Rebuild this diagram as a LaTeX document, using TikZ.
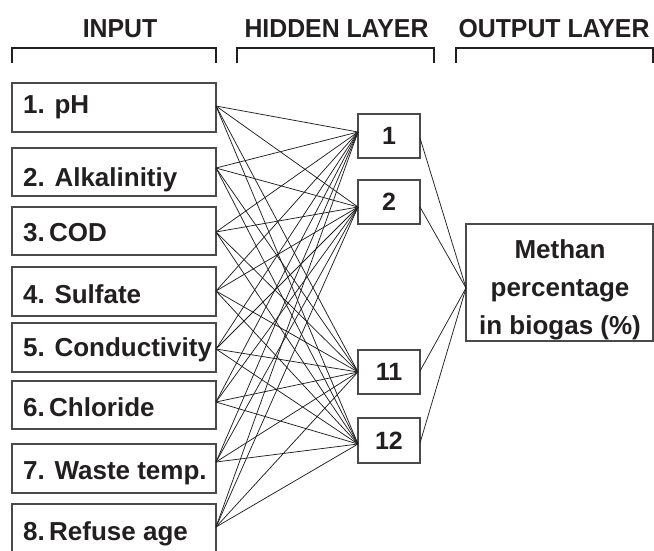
\documentclass[tikz,border=0pt]{standalone}
\usepackage{fontspec}
\setmainfont{Liberation Sans}
\definecolor{ink}{HTML}{231F20}
\definecolor{edge}{HTML}{4A4A4A}
\begin{document}
\begin{tikzpicture}[x=1pt,y=-1pt,
  box/.style={draw=edge,line width=1.3pt,inner sep=0pt,minimum width=204pt},
  hbox/.style={draw=edge,line width=1.3pt,inner sep=0pt,minimum width=62pt,minimum height=44pt,
    font=\fontsize{25}{30}\selectfont\bfseries,text=ink},
  lbl/.style={anchor=base west,inner sep=0pt,font=\fontsize{26}{31}\selectfont\bfseries,text=ink},
  hdr/.style={anchor=base,inner sep=0pt,font=\fontsize{26}{31}\selectfont\bfseries,text=ink},
  link/.style={draw=ink,line width=0.75pt},
  brk/.style={draw=ink,line width=1.4pt}]
\useasboundingbox (0,0) rectangle (654,550);
% headers
\node[hdr] (hin) at (120,37.5) {\scalebox{0.955}[1]{INPUT}};
\node[hdr] (hhid) at (336.5,37.5) {\scalebox{0.955}[1]{HIDDEN LAYER}};
\node[hdr] (hout) at (554,37.5) {\scalebox{0.955}[1]{OUTPUT LAYER}};
% brackets
\draw[brk] (12,63) -- (12,48) -- (216,48) -- (216,63);
\draw[brk] (237,63) -- (237,48) -- (434,48) -- (434,63);
\draw[brk] (456,63) -- (456,48) -- (653,48) -- (653,63);
% input boxes
\node[box,minimum height=49pt] (in1) at (114,107.5) {};
\node[box,minimum height=48pt] (in2) at (114,172) {};
\node[box,minimum height=48pt] (in3) at (114,231) {};
\node[box,minimum height=49pt] (in4) at (114,291.5) {};
\node[box,minimum height=49pt] (in5) at (114,347.5) {};
\node[box,minimum height=48pt] (in6) at (114,405) {};
\node[box,minimum height=49pt] (in7) at (114,468.5) {};
\node[box,minimum height=60pt] (in8) at (114,534) {};
\node[lbl] (t1) at (23,113) {1. pH};
\node[lbl] (t2) at (23,186) {2. Alkalinitiy};
\node[lbl] (t3) at (23,241) {3.\,COD};
\node[lbl] (t4) at (23,303) {4. Sulfate};
\node[lbl] (t5) at (23,356) {5. Conductivity};
\node[lbl] (t6) at (23,416) {6.\,Chloride};
\node[lbl] (t7) at (23,479) {7. Waste temp.};
\node[lbl] (t8) at (23,540) {8.\,Refuse age};
% input ports
\coordinate (p1) at (216,106);
\coordinate (p2) at (216,168);
\coordinate (p3) at (216,232);
\coordinate (p4) at (216,291);
\coordinate (p5) at (216,349);
\coordinate (p6) at (216,402);
\coordinate (p7) at (216,462);
\coordinate (p8) at (216,527);
% hidden boxes
\node[hbox] (h1) at (389,136) {1};
\node[hbox] (h2) at (389,202) {2};
\node[hbox] (h11) at (389,372) {11};
\node[hbox,minimum height=45pt] (h12) at (389,440.5) {12};
\coordinate (hl1) at (358,132);
\coordinate (hl2) at (358,207);
\coordinate (hl11) at (358,372);
\coordinate (hl12) at (358,444);
\coordinate (hr1) at (420,138);
\coordinate (hr2) at (420,207);
\coordinate (hr11) at (420,371);
\coordinate (hr12) at (420,443);
% output box
\node[draw=edge,line width=1.3pt,inner sep=0pt,minimum width=187pt,minimum height=117pt] (out) at (559.5,282.5) {};
\node[inner sep=0pt,align=center,font=\fontsize{26}{38}\selectfont\bfseries,text=ink] (otxt) at (560,290) {Methan\\percentage\\in biogas (\%)};
\coordinate (ol) at (466,288);
% links
\foreach \i in {1,...,8}{
  \foreach \j in {1,2,11,12}{
    \draw[link] (p\i) -- (hl\j);
  }
}
\foreach \j in {1,2,11,12}{
  \draw[link] (hr\j) -- (ol);
}
\end{tikzpicture}
\end{document}
